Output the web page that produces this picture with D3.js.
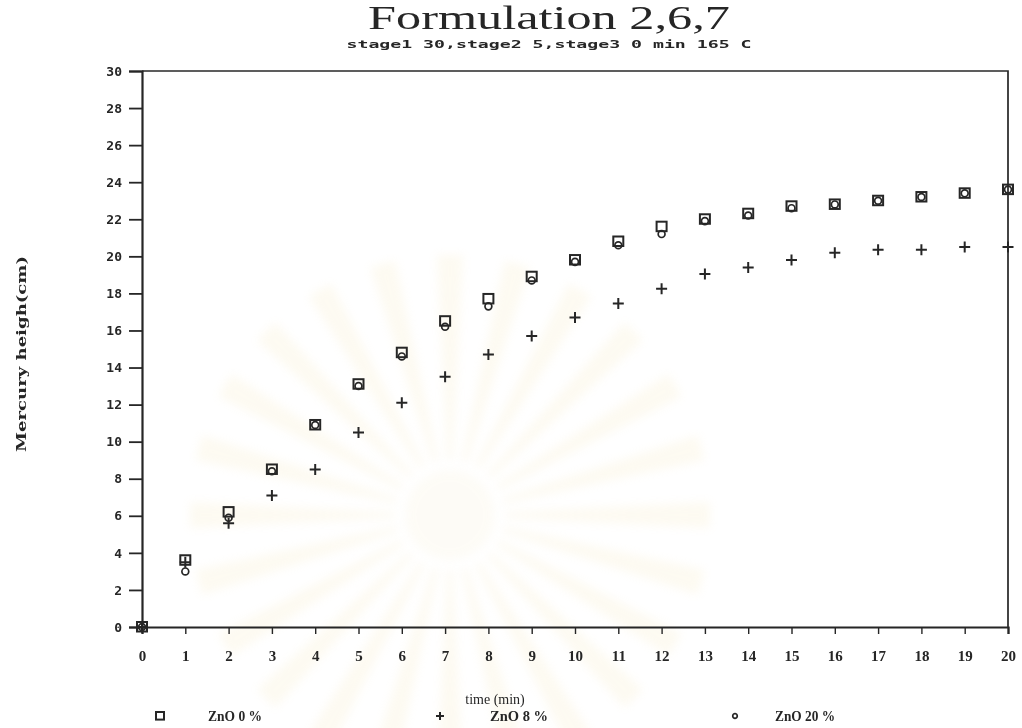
<!DOCTYPE html>
<html>
<head>
<meta charset="utf-8">
<script src="https://cdn.jsdelivr.net/npm/d3@7"></script>
<style>
  html, body { margin: 0; padding: 0; background: #fff; }
  svg { display: block; }
</style>
</head>
<body>
<svg id="chart" width="1022" height="728"></svg>
<script>
// Time points (min)
const times = [0, 1, 2, 3, 4, 5, 6, 7, 8, 9, 10, 11, 12, 13, 14, 15, 16, 17, 18, 19, 20];

// Mercury height (cm) for each ZnO loading
const zno0  = [0, 3.6, 6.2, 8.5, 10.9, 13.1, 14.8, 16.5, 17.7, 18.9, 19.8, 20.8, 21.6, 22.0, 22.3, 22.7, 22.8, 23.0, 23.2, 23.4, 23.6];
const zno8  = [0, 3.5, 5.6, 7.1, 8.5, 10.5, 12.1, 13.5, 14.7, 15.7, 16.7, 17.45, 18.25, 19.05, 19.4, 19.8, 20.2, 20.35, 20.35, 20.5, 20.5];
const zno20 = [0, 3.0, 5.9, 8.4, 10.9, 13.0, 14.6, 16.2, 17.3, 18.7, 19.7, 20.6, 21.2, 21.9, 22.2, 22.6, 22.8, 23.0, 23.2, 23.4, 23.6];

const seriesNames = ["ZnO 0 %", "ZnO 8 %", "ZnO 20 %"];
const seriesSymbols = ["square", "plus", "circle"];

const xTicks = d3.range(0, 21, 1);
const yTicks = d3.range(0, 31, 2);

const titleText = "Formulation 2,6,7";
const subtitleText = "stage1 30,stage2 5,stage3 0 min 165 C";
const xLabel = "time (min)";
const yLabel = "Mercury heigh(cm)";

const ink = "#262626";
const svg = d3.select("#chart");

// soft print look
const defs = svg.append("defs");
defs.append("filter").attr("id", "soft")
  .append("feGaussianBlur").attr("stdDeviation", 0.5);
defs.append("filter").attr("id", "haze")
  .append("feGaussianBlur").attr("stdDeviation", 5);

// faint page emblem behind the plot
const emblem = svg.append("g")
  .attr("transform", "translate(450,515)")
  .attr("filter", "url(#haze)")
  .attr("opacity", 0.13);
const rayArc = d3.arc().innerRadius(55).outerRadius(260);
d3.range(0, 24).forEach(k => {
  const a0 = k * (Math.PI * 2 / 24);
  emblem.append("path")
    .attr("d", rayArc({ startAngle: a0 - 0.05, endAngle: a0 + 0.05 }))
    .attr("fill", "#f1dc9a");
});
emblem.append("circle").attr("r", 45).attr("fill", "#f3e6bd");

const root = svg.append("g").attr("filter", "url(#soft)");

const plot = { left: 142, right: 1008, top: 71, bottom: 627 };

const x = d3.scaleLinear().domain([0, 20]).range([plot.left, plot.right]);
const y = d3.scaleLinear().domain([0, 30]).range([plot.bottom, plot.top]);

// frame: top and right edges
root.append("path")
  .attr("d", `M${x(0)},${y(30)}H${x(20)}V${y(0)}`)
  .attr("fill", "none").attr("stroke", ink).attr("stroke-width", 1.7);

// y axis
const yAxis = root.append("g")
  .attr("transform", `translate(${plot.left},0)`)
  .call(d3.axisLeft(y).tickValues(yTicks).tickSize(13).tickPadding(7).tickFormat(d3.format("d")));
yAxis.select(".domain").attr("stroke", ink).attr("stroke-width", 2.2);
yAxis.selectAll(".tick line").attr("stroke", ink).attr("stroke-width", 1.8);
yAxis.selectAll(".tick text")
  .attr("fill", ink)
  .style("font-family", "'DejaVu Sans Mono', monospace")
  .style("font-weight", "bold")
  .style("font-size", "13px");

// x axis
const xAxis = root.append("g")
  .attr("transform", `translate(0,${plot.bottom})`)
  .call(d3.axisBottom(x).tickValues(xTicks).tickSize(7).tickPadding(16).tickFormat(d3.format("d")));
xAxis.select(".domain").attr("stroke", ink).attr("stroke-width", 2.2);
xAxis.selectAll(".tick line").attr("stroke", ink).attr("stroke-width", 1.4);
xAxis.selectAll(".tick text")
  .attr("fill", ink)
  .style("font-family", "'Liberation Serif', serif")
  .style("font-weight", "bold")
  .style("font-size", "15px");

// titles
root.append("text")
  .attr("x", 549).attr("y", 29)
  .attr("text-anchor", "middle")
  .attr("textLength", 362).attr("lengthAdjust", "spacingAndGlyphs")
  .attr("fill", ink)
  .style("font-family", "'Liberation Serif', serif")
  .style("font-size", "33px")
  .text(titleText);

root.append("text")
  .attr("x", 549).attr("y", 48)
  .attr("text-anchor", "middle")
  .attr("textLength", 405).attr("lengthAdjust", "spacingAndGlyphs")
  .attr("fill", ink)
  .style("font-family", "'DejaVu Sans Mono', monospace")
  .style("font-weight", "bold")
  .style("font-size", "11px")
  .text(subtitleText);

root.append("text")
  .attr("transform", `translate(26,${(plot.top + plot.bottom) / 2 + 5}) rotate(-90)`)
  .attr("text-anchor", "middle")
  .attr("textLength", 196).attr("lengthAdjust", "spacingAndGlyphs")
  .attr("fill", ink)
  .style("font-family", "'DejaVu Serif', serif")
  .style("font-weight", "bold")
  .style("font-size", "13px")
  .text(yLabel);

root.append("text")
  .attr("x", 495).attr("y", 704)
  .attr("text-anchor", "middle")
  .attr("fill", ink)
  .style("font-family", "'Liberation Serif', serif")
  .style("font-size", "14px")
  .text(xLabel);

// marker drawing
function drawSymbol(g, kind, size) {
  if (kind === "square") {
    g.append("rect").attr("x", -size / 2).attr("y", -size / 2)
      .attr("width", size).attr("height", size * 0.95)
      .attr("fill", "none").attr("stroke", ink).attr("stroke-width", 2);
  } else if (kind === "plus") {
    g.append("path")
      .attr("d", `M${-size / 2},0H${size / 2}M0,${-size / 2}V${size / 2}`)
      .attr("stroke", ink).attr("stroke-width", 2);
  } else {
    g.append("circle").attr("r", size * 0.38)
      .attr("fill", "none").attr("stroke", ink).attr("stroke-width", 1.7);
  }
}

const series = [zno0, zno8, zno20];
series.forEach((vals, i) => {
  const g = root.append("g");
  times.forEach((t, j) => {
    const m = g.append("g").attr("transform", `translate(${x(t)},${y(vals[j])})`);
    drawSymbol(m, seriesSymbols[i], i === 1 ? 11 : (i === 2 ? 9 : 10));
  });
});

// legend
const legendX = [[160, 208], [440, 490], [735, 775]];
const legendLen = [54, 58, 60];
seriesNames.forEach((name, i) => {
  const m = root.append("g").attr("transform", `translate(${legendX[i][0]},716)`);
  drawSymbol(m, seriesSymbols[i], i === 2 ? 6 : 8);
  root.append("text")
    .attr("x", legendX[i][1]).attr("y", 721)
    .attr("textLength", legendLen[i]).attr("lengthAdjust", "spacingAndGlyphs")
    .attr("fill", ink)
    .style("font-family", "'Liberation Serif', serif")
    .style("font-weight", "bold")
    .style("font-size", "14px")
    .text(name);
});
</script>
</body>
</html>
